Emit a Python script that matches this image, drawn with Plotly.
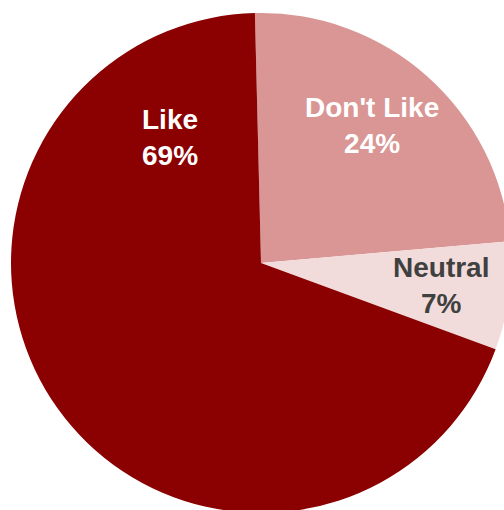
import plotly.graph_objects as go

labels = ["Don't Like", "Neutral", "Like"]
values = [24, 7, 69]
colors = ["#D99694", "#F2DCDB", "#8B0000"]
text_colors = ["#FFFFFF", "#404040", "#FFFFFF"]
# label positions (paper coords)
label_x = [0.722, 0.860, 0.318]
label_y = [0.774, 0.456, 0.752]

fig = go.Figure(go.Pie(
    labels=labels, values=values, sort=False, direction="clockwise", rotation=-1.4,
    marker=dict(colors=colors, line=dict(width=0)),
    textinfo="none", hoverinfo="label+percent", showlegend=False,
))

total = sum(values)
for lab, v, c, x, y in zip(labels, values, text_colors, label_x, label_y):
    fig.add_annotation(
        x=x, y=y, xref="paper", yref="paper", xanchor="center", yanchor="middle",
        text=f"<b>{lab}<br>{round(100 * v / total)}%</b>", showarrow=False,
        font=dict(family="Liberation Sans, Arial, sans-serif", size=28, color=c),
    )

fig.update_layout(
    width=522, height=526,
    margin=dict(l=11, r=11, t=13, b=13),
    paper_bgcolor="white", plot_bgcolor="white",
)

fig.write_html("out.html", post_script="document.documentElement.style.overflow='hidden';document.body.style.overflow='hidden';document.body.style.margin='0';")
